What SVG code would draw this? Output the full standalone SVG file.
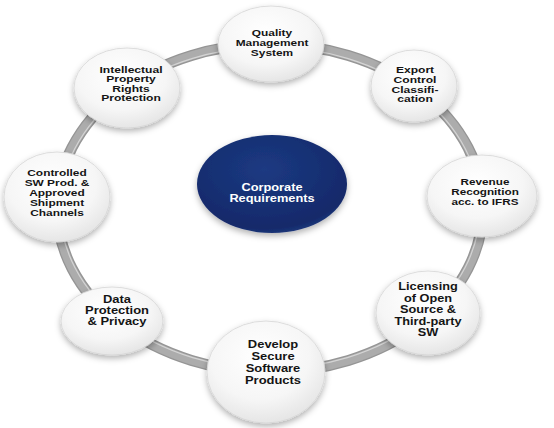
<svg xmlns="http://www.w3.org/2000/svg" width="554" height="428" viewBox="0 0 554 428">
<style>
.t{font-family:"Liberation Sans",Arial,sans-serif;font-weight:bold;font-size:9.3px;fill:#141414;text-anchor:middle}
.tl{font-size:10.2px}
.tw{fill:#ffffff;font-size:10px}
.nd{fill:url(#gW);stroke:#d6d6d6;stroke-width:0.8;filter:url(#sh)}
</style>
<defs>
<radialGradient id="gW" cx="0.45" cy="0.35" r="0.7">
<stop offset="0" stop-color="#ffffff"/>
<stop offset="0.6" stop-color="#f6f6f6"/>
<stop offset="1" stop-color="#e2e2e2"/>
</radialGradient>
<radialGradient id="gB" cx="0.45" cy="0.35" r="0.75">
<stop offset="0" stop-color="#1c3a82"/>
<stop offset="0.8" stop-color="#13296a"/>
<stop offset="1" stop-color="#2b4a8e"/>
</radialGradient>
<filter id="sh" x="-20%" y="-20%" width="140%" height="150%">
<feDropShadow dx="0" dy="3" stdDeviation="3" flood-color="#000" flood-opacity="0.3"/>
</filter>
</defs>
<rect width="554" height="428" fill="#ffffff"/>
<g id="connectors">
<ellipse cx="270" cy="208" rx="213" ry="164" fill="none" stroke="#959595" stroke-width="11"/>
<ellipse cx="270" cy="208" rx="213" ry="164" fill="none" stroke="#acacac" stroke-width="8.5"/>
<ellipse cx="270" cy="208" rx="210" ry="161" fill="none" stroke="#d4d4d4" stroke-width="1.2"/>
</g>
<g id="center">
<ellipse cx="272" cy="184" rx="75" ry="49" fill="url(#gB)" filter="url(#sh)"/>
<g transform="matrix(1.28 0 0 1 272 0)"><text class="t tw"><tspan x="0" y="191.5">Corporate</tspan><tspan x="0" y="202.5">Requirements</tspan></text></g>
</g>
<g id="quality">
<ellipse class="nd" cx="271" cy="44" rx="53" ry="38"/>
<g transform="matrix(1.28 0 0 1 272 0)"><text class="t"><tspan x="0" y="36.5">Quality</tspan><tspan x="0" y="46.5">Management</tspan><tspan x="0" y="56.5">System</tspan></text></g>
</g>
<g id="export">
<ellipse class="nd" cx="414" cy="86" rx="43" ry="36"/>
<g transform="matrix(1.3 0 0 1 415 0)"><text class="t"><tspan x="0" y="73.5">Export</tspan><tspan x="0" y="83.5">Control</tspan><tspan x="0" y="93">Classifi-</tspan><tspan x="0" y="102.5">cation</tspan></text></g>
</g>
<g id="revenue">
<ellipse class="nd" cx="482" cy="196" rx="55" ry="41"/>
<g transform="matrix(1.26 0 0 1 485 0)"><text class="t"><tspan x="0" y="185.5">Revenue</tspan><tspan x="0" y="195.5">Recognition</tspan><tspan x="0" y="205.5">acc. to IFRS</tspan></text></g>
</g>
<g id="licensing">
<ellipse class="nd" cx="428" cy="313" rx="52" ry="42"/>
<g transform="matrix(1.25 0 0 1 428 0)"><text class="t tl"><tspan x="0" y="290.5">Licensing</tspan><tspan x="0" y="302">of Open</tspan><tspan x="0" y="313.5">Source &amp;</tspan><tspan x="0" y="325">Third-party</tspan><tspan x="0" y="336.5">SW</tspan></text></g>
</g>
<g id="develop">
<ellipse class="nd" cx="266" cy="372" rx="59" ry="51"/>
<g transform="matrix(1.27 0 0 1 273 0)"><text class="t tl"><tspan x="0" y="348.5">Develop</tspan><tspan x="0" y="360.5">Secure</tspan><tspan x="0" y="372.5">Software</tspan><tspan x="0" y="384.5">Products</tspan></text></g>
</g>
<g id="data">
<ellipse class="nd" cx="112" cy="321" rx="51" ry="34"/>
<g transform="matrix(1.27 0 0 1 117 0)"><text class="t tl"><tspan x="0" y="303.5">Data</tspan><tspan x="0" y="314.5">Protection</tspan><tspan x="0" y="325.5">&amp; Privacy</tspan></text></g>
</g>
<g id="controlled">
<ellipse class="nd" cx="57" cy="197" rx="53" ry="45"/>
<g transform="matrix(1.28 0 0 1 57 0)"><text class="t"><tspan x="0" y="176">Controlled</tspan><tspan x="0" y="186">SW Prod. &amp;</tspan><tspan x="0" y="196">Approved</tspan><tspan x="0" y="206">Shipment</tspan><tspan x="0" y="216">Channels</tspan></text></g>
</g>
<g id="intellectual">
<ellipse class="nd" cx="127" cy="88" rx="53" ry="40"/>
<g transform="matrix(1.3 0 0 1 131 0)"><text class="t"><tspan x="0" y="73">Intellectual</tspan><tspan x="0" y="82.5">Property</tspan><tspan x="0" y="92">Rights</tspan><tspan x="0" y="101.5">Protection</tspan></text></g>
</g>
</svg>
